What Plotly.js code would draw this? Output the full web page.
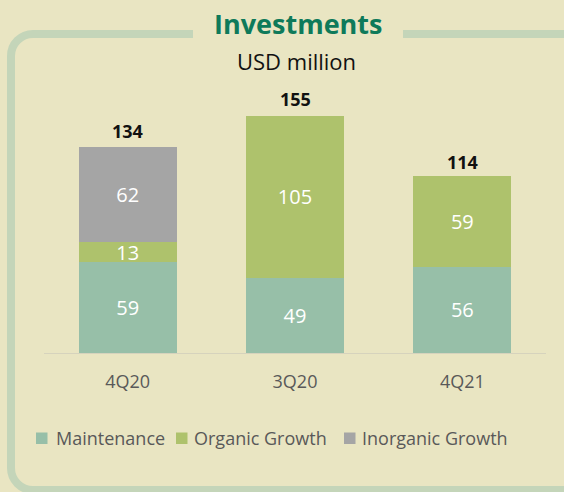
<!DOCTYPE html>
<html><head><meta charset="utf-8">
<script src="https://cdn.plot.ly/plotly-3.0.1.min.js"></script>
<style>
html,body{margin:0;padding:0;background:#E9E5C2;width:564px;height:492px;overflow:hidden;}
#frame{position:absolute;left:7px;top:30px;width:600px;height:448px;border:8px solid #C4D5B9;border-radius:26px;}
#chart{position:absolute;left:0;top:0;width:564px;height:492px;}
</style></head><body>
<div id="frame"></div>
<div id="chart"></div>
<script>
const categories = ["4Q20", "3Q20", "4Q21"];
const maintenance = [59, 49, 56];
const organicGrowth = [13, 105, 59];
const inorganicGrowth = [62, 0, 0];
const totals = [134, 155, 114];
const seriesNames = ["Maintenance", "Organic Growth", "Inorganic Growth"];
const colors = ["#97BFA8", "#AEC26C", "#A5A5A5"];

const FONT = "'Open Sans', sans-serif";
// pixel -> paper helpers (plot area: x 44..546, y 100..353)
const PX = p => (p - 44) / 502;
const PY = p => (353 - p) / 253;

function barTrace(vals, idx) {
  return {
    type: "bar", x: categories, y: vals, name: seriesNames[idx],
    marker: {color: colors[idx]},
    text: vals.map(v => v > 0 ? String(v) : ""),
    textposition: "inside", insidetextanchor: "middle", textangle: 0,
    constraintext: "none",
    textfont: {color: "#FFFFFF", size: 20, family: FONT},
    hoverinfo: "none", showlegend: false
  };
}
const data = [barTrace(maintenance, 0), barTrace(organicGrowth, 1), barTrace(inorganicGrowth, 2)];

const annotations = categories.map((c, i) => ({
  x: c, y: totals[i], xref: "x", yref: "y", text: "<b>" + totals[i] + "</b>",
  showarrow: false, yanchor: "bottom", yshift: 2,
  font: {size: 18, color: "#111111", family: FONT}
}));
annotations.push({
  xref: "paper", yref: "paper", x: PX(296), y: PY(61), xanchor: "center", yanchor: "middle",
  text: "USD million", showarrow: false,
  font: {size: 22, color: "#111111", family: FONT}
});
annotations.push({
  xref: "paper", yref: "paper", x: PX(298), y: PY(23), xanchor: "center", yanchor: "middle",
  text: "<b>Investments</b>", showarrow: false,
  font: {size: 27, color: "#0E7A5A", family: FONT, weight: 800}
});

// custom compact legend
const legendMarkerX = [36, 176, 344];
const legendTextX = [54, 192, 360];
const shapes = [{type: "rect", xref: "paper", yref: "paper",
  x0: PX(193), x1: PX(403), y0: PY(44), y1: PY(24),
  fillcolor: "#E9E5C2", line: {width: 0}, layer: "below"}];
seriesNames.forEach((n, i) => {
  shapes.push({type: "rect", xref: "paper", yref: "paper",
    x0: PX(legendMarkerX[i]), x1: PX(legendMarkerX[i] + 11.5), y0: PY(444), y1: PY(432.5),
    fillcolor: colors[i], line: {width: 0}});
  annotations.push({xref: "paper", yref: "paper", x: PX(legendTextX[i]), y: PY(438),
    xanchor: "left", yanchor: "middle", text: n, showarrow: false,
    font: {size: 18, color: "#595959", family: FONT}});
});

const layout = {
  width: 564, height: 492,
  paper_bgcolor: "rgba(0,0,0,0)", plot_bgcolor: "rgba(0,0,0,0)",
  margin: {l: 44, r: 18, t: 100, b: 139},
  barmode: "stack", bargap: 0.413,
  showlegend: false,
  xaxis: {showline: true, linecolor: "#D6D3BD", linewidth: 1, ticks: "", showgrid: false,
    ticklabelstandoff: 12,
    tickfont: {size: 18, color: "#595959", family: FONT}, fixedrange: true},
  yaxis: {range: [0, 164.6], visible: false, showgrid: false, zeroline: false},
  shapes: shapes,
  annotations: annotations
};
Plotly.newPlot("chart", data, layout, {displayModeBar: false, staticPlot: true});
</script>
</body></html>
